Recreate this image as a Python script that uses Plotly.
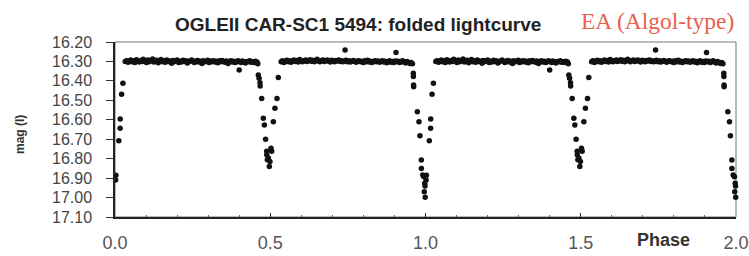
import numpy as np
import plotly.graph_objects as go

# ---- one folded cycle: phase (0..1) and I magnitude ----
# primary eclipse, egress part (phase just after 0)
egress_phase = [0.002, 0.003, 0.0123, 0.0165, 0.0168, 0.0212, 0.0255]
egress_mag = [16.910, 16.885, 16.708, 16.644, 16.596, 16.469, 16.412]

# out-of-eclipse plateau, first half
plateau1_phase = [0.033,0.037,0.042,0.046,0.051,0.055,0.061,0.064,0.069,0.074,
                  0.078,0.083,0.088,0.091,0.097,0.101,0.106,0.110,0.115,0.121,
                  0.125,0.129,0.134,0.139,0.143,0.148,0.153,0.158,0.162,0.167,
                  0.171,0.176,0.182,0.186,0.190,0.195,0.200,0.205,0.209,0.214,
                  0.219,0.223,0.228,0.233,0.237,0.242,0.247,0.252,0.256,0.261,
                  0.266,0.270,0.275,0.280,0.284,0.289,0.294,0.298,0.303,0.308,
                  0.312,0.317,0.322,0.326,0.331,0.336,0.340,0.345,0.350,0.354,
                  0.359,0.364,0.368,0.373,0.378,0.382,0.387,0.392,0.396,0.401,
                  0.406,0.410,0.415,0.420,0.424,0.429,0.434,0.438,0.443,0.448,
                  0.452,0.457,0.460]
plateau1_mag = [16.300,16.296,16.304,16.298,16.293,16.302,16.297,16.306,16.291,16.299,
                16.303,16.295,16.300,16.289,16.297,16.305,16.292,16.301,16.296,16.288,
                16.303,16.298,16.294,16.307,16.299,16.290,16.302,16.296,16.304,16.293,
                16.300,16.298,16.309,16.295,16.301,16.297,16.292,16.305,16.299,16.303,
                16.294,16.300,16.296,16.308,16.302,16.297,16.293,16.301,16.306,16.298,
                16.295,16.303,16.299,16.310,16.296,16.302,16.300,16.294,16.305,16.298,
                16.301,16.296,16.303,16.299,16.307,16.297,16.302,16.295,16.300,16.304,
                16.298,16.311,16.301,16.297,16.303,16.299,16.306,16.302,16.296,16.300,
                16.305,16.298,16.303,16.308,16.300,16.302,16.297,16.304,16.301,16.306,
                16.299,16.303,16.312]

# secondary eclipse around phase 0.5
secondary_phase = [0.4616, 0.4640, 0.4670, 0.4675, 0.4724, 0.4777, 0.4810, 0.4850,
                   0.4885, 0.4888, 0.4940, 0.4906, 0.4990, 0.4970, 0.5046, 0.5024,
                   0.5100, 0.5150, 0.5217, 0.5260]
secondary_mag = [16.370, 16.387, 16.409, 16.426, 16.490, 16.592, 16.627, 16.700,
                 16.762, 16.780, 16.797, 16.805, 16.814, 16.840, 16.762, 16.747,
                 16.610, 16.541, 16.490, 16.382]

# out-of-eclipse plateau, second half
plateau2_phase = [0.535,0.539,0.544,0.548,0.553,0.558,0.562,0.567,0.572,0.576,
                  0.581,0.586,0.590,0.595,0.600,0.604,0.609,0.614,0.618,0.623,
                  0.628,0.632,0.637,0.642,0.646,0.651,0.656,0.660,0.665,0.670,
                  0.674,0.679,0.684,0.688,0.693,0.698,0.702,0.707,0.712,0.716,
                  0.721,0.726,0.730,0.735,0.740,0.744,0.749,0.754,0.758,0.763,
                  0.768,0.772,0.777,0.782,0.786,0.791,0.796,0.800,0.805,0.810,
                  0.814,0.819,0.824,0.828,0.833,0.838,0.842,0.847,0.852,0.856,
                  0.861,0.866,0.870,0.875,0.880,0.884,0.889,0.894,0.898,0.903,
                  0.908,0.912,0.917,0.922,0.926,0.931,0.936,0.940,0.945,0.950,
                  0.954,0.958]
plateau2_mag = [16.302,16.297,16.305,16.299,16.294,16.301,16.296,16.304,16.298,16.292,
                16.300,16.295,16.303,16.290,16.298,16.302,16.296,16.293,16.300,16.297,
                16.291,16.299,16.294,16.302,16.296,16.289,16.298,16.301,16.295,16.293,
                16.300,16.296,16.292,16.299,16.303,16.294,16.297,16.301,16.295,16.298,
                16.293,16.300,16.296,16.302,16.298,16.294,16.301,16.297,16.303,16.299,
                16.295,16.300,16.304,16.298,16.296,16.302,16.299,16.305,16.297,16.301,
                16.294,16.303,16.299,16.306,16.300,16.296,16.302,16.298,16.304,16.300,
                16.297,16.303,16.299,16.307,16.301,16.296,16.304,16.300,16.306,16.298,
                16.302,16.299,16.305,16.301,16.297,16.303,16.308,16.300,16.304,16.310,
                16.306,16.312]

# scattered outliers
outlier_phase = [0.400, 0.741, 0.905]
outlier_mag = [16.344, 16.241, 16.254]

# primary eclipse, ingress part (phase just before 1)
ingress_phase = [0.9607, 0.9610, 0.9615, 0.9618, 0.9737, 0.9790, 0.9820, 0.9866,
                 0.9868, 0.9910, 0.9950, 0.9975, 0.9985, 0.9960, 0.9990]
ingress_mag = [16.361, 16.378, 16.421, 16.430, 16.559, 16.610, 16.682, 16.807,
               16.850, 16.884, 16.893, 16.927, 16.940, 16.970, 16.999]

x_range = [0.0, 2.0]
y_range = [17.10, 16.20]

cycle_phase = np.array(egress_phase + plateau1_phase + secondary_phase +
                       plateau2_phase + outlier_phase + ingress_phase)
cycle_mag = np.array(egress_mag + plateau1_mag + secondary_mag +
                     plateau2_mag + outlier_mag + ingress_mag)

# folded light curve shown over two cycles
phase_all = np.concatenate([cycle_phase, cycle_phase + 1.0])
mag_all = np.concatenate([cycle_mag, cycle_mag])

fig = go.Figure()
fig.add_trace(go.Scatter(
    x=phase_all, y=mag_all, mode="markers",
    marker=dict(size=5.5, color="#111111"),
    cliponaxis=False, showlegend=False, hoverinfo="x+y"))

fig.update_layout(
    width=749, height=256,
    margin=dict(l=115, r=13, t=42, b=39, autoexpand=False),
    paper_bgcolor="white", plot_bgcolor="white",
    font=dict(family="Arial, Liberation Sans, sans-serif"),
    xaxis=dict(range=x_range, tick0=0, dtick=0.5, tickformat=".1f",
               automargin=False,
               showgrid=False, zeroline=False,
               showline=True, linecolor="#222", linewidth=1.5,
               ticks="inside", ticklen=4, tickcolor="#333", tickwidth=1,
               minor=dict(dtick=0.1, ticks="inside", ticklen=2, tickcolor="#666"),
               tickfont=dict(size=18, color="#555"), ticklabelstandoff=9),
    yaxis=dict(range=y_range, tick0=16.2, dtick=0.1, tickformat=".2f",
               automargin=False,
               showgrid=False, zeroline=False,
               showline=True, linecolor="#222", linewidth=1.5,
               ticks="outside", ticklen=7, tickcolor="#333", tickwidth=1,
               tickfont=dict(size=16, color="#444"), ticklabelstandoff=11),
    shapes=[dict(type="rect", xref="paper", yref="paper", x0=0, x1=1, y0=0, y1=1,
                 line=dict(color="#777", width=1), layer="below")],
    annotations=[
        dict(text="<b>OGLEII CAR-SC1 5494: folded lightcurve</b>",
             xref="paper", yref="paper", x=0.3915, y=1.10,
             xanchor="center", yanchor="middle", showarrow=False,
             font=dict(size=19, color="#222")),
        dict(text="EA (Algol-type)",
             xref="paper", yref="paper", x=0.874, y=1.12,
             xanchor="center", yanchor="middle", showarrow=False,
             font=dict(family="Liberation Serif, Times New Roman, serif",
                       size=23.5, color="#E8604C")),
        dict(text="<b>Phase</b>",
             xref="paper", yref="paper", x=0.8825, y=-0.131,
             xanchor="center", yanchor="middle", showarrow=False,
             font=dict(size=18, color="#333")),
        dict(text="<b>mag (I)</b>",
             xref="paper", yref="paper", x=-0.153, y=0.474,
             xanchor="center", yanchor="middle", showarrow=False,
             textangle=-90, font=dict(size=12, color="#333")),
    ],
)

fig.write_html(
    "out.html",
    config={"displayModeBar": False},
    post_script="document.body.style.margin='0';document.body.style.overflow='hidden';",
)
